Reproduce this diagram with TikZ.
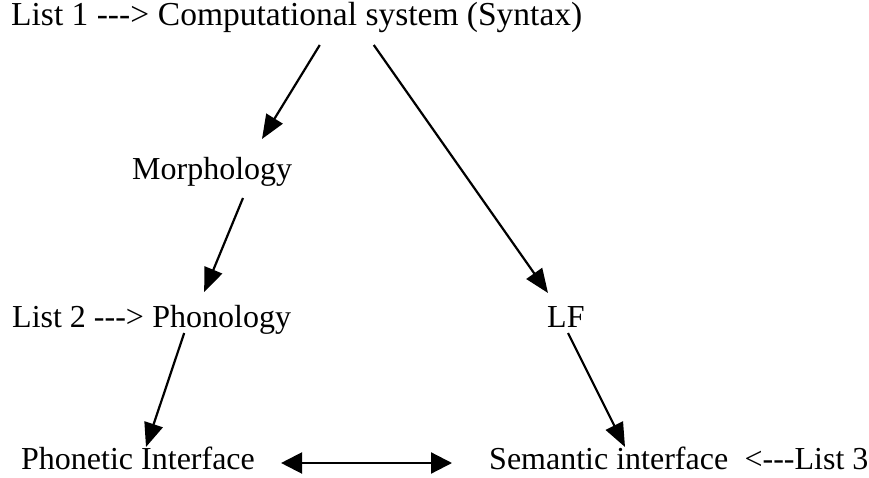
\documentclass[tikz,border=0pt]{standalone}
\usepackage{fontspec}
\setmainfont{Liberation Serif}
\usetikzlibrary{arrows.meta}
% three plain hyphens, kept apart so they are not joined into a dash
\newcommand{\trip}{-\kern0pt-\kern0pt-\kern0pt}
\begin{document}
\begin{tikzpicture}[x=1pt,y=-1pt,
  lbl/.style={anchor=base west, inner sep=0pt, font=\fontsize{32}{38}\selectfont},
  toplbl/.style={lbl, font=\fontsize{33.5}{40}\selectfont},
  flow/.style={line width=2.2pt, -{Triangle[length=24pt,width=19pt]}},
  link/.style={line width=2.2pt, {Triangle[length=21pt,width=21pt]}-{Triangle[length=21pt,width=21pt]}}]
\useasboundingbox (0,0) rectangle (869,478);

% labels
\node[toplbl] (l1) at (11,26) {List 1 \trip>};
\node[toplbl] (comp) at ([xshift=8.4pt]l1.base east) {Computational system (Syntax)};
\node[lbl] (morph) at (132,180) {Morphology};
\node[lbl] (l2) at (12,327) {List 2 \trip>};
\node[lbl] (phon) at ([xshift=8pt]l2.base east) {Phonology};
\node[lbl] (lf) at (547,327) {LF};
\node[lbl] (phonetic) at (21,469) {Phonetic Interface};
\node[lbl] (sem) at (489,469) {Semantic interface};
\node[lbl] (l3) at ([xshift=16pt]sem.base east) {<\trip List 3};

% derivation arrows
\draw[flow] ([shift={(162,19)}]comp.base west) -- ([shift={(130,-41)}]morph.base west);
\draw[flow] ([shift={(216,19)}]comp.base west) -- ([shift={(1,-34)}]lf.base west);
\draw[flow] ([shift={(111,18)}]morph.base west) -- ([shift={(52,-35)}]phon.base west);
\draw[flow] ([shift={(32,6)}]phon.base west) -- ([shift={(125,-22)}]phonetic.base west);
\draw[flow] ([shift={(21,6)}]lf.base west) -- ([shift={(136,-22)}]sem.base west);

% interface link
\draw[link] ([shift={(26,-6)}]phonetic.base east) -- ([shift={(-37,-6)}]sem.base west);
\end{tikzpicture}
\end{document}
